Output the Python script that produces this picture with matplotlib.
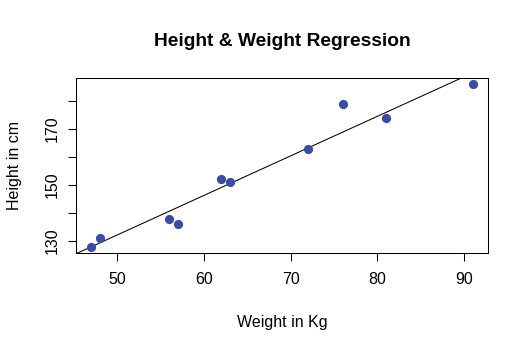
import numpy as np
import matplotlib
matplotlib.use("Agg")
import matplotlib.pyplot as plt

weight = [63, 81, 56, 91, 47, 57, 76, 72, 62, 48]
height = [151, 174, 138, 186, 128, 136, 179, 163, 152, 131]
xticks = [50, 60, 70, 80, 90]
yticks = [130, 140, 150, 160, 170, 180]
ylabels = ["130", "", "150", "", "170", ""]

plt.rcParams['font.family'] = ['Liberation Sans', 'DejaVu Sans']

fig = plt.figure(figsize=(5.2, 3.4), dpi=100)
ax = fig.add_axes([76/520, 1-253/340, (488-76)/520, (253-78)/340])

w = np.array(weight, float)
h = np.array(height, float)
ax.scatter(w, h, s=44, color='#3a4ca6', zorder=3, linewidths=0)

slope, intercept = np.polyfit(w, h, 1)
xr = (w.min() - 0.04*(w.max()-w.min()), w.max() + 0.04*(w.max()-w.min()))
yr = (h.min() - 0.04*(h.max()-h.min()), h.max() + 0.04*(h.max()-h.min()))
xx = np.array([xr[0] - 10, xr[1] + 10])
ax.plot(xx, intercept + slope*xx, color='black', lw=0.75, zorder=2)
ax.set_xlim(*xr)
ax.set_ylim(*yr)

ax.set_xticks(xticks)
ax.set_xticklabels([str(t) for t in xticks])
ax.set_yticks(yticks)
ax.set_yticklabels(ylabels, rotation=90, va='center')
ax.tick_params(direction='out', length=6, width=0.75, labelsize=11.5, pad=6, colors='black')
ax.tick_params(axis='x', pad=8)
for s in ax.spines.values():
    s.set_linewidth(0.75)

ax.set_xlabel("Weight in Kg", fontsize=11.5)
ax.set_ylabel("Height in cm", fontsize=11.5)
ax.xaxis.set_label_coords((282-76)/412, -(323-253)/175)
ax.yaxis.set_label_coords(-(76-14)/412, 0.5)
ax.xaxis.label.set_va('center')
ax.yaxis.label.set_va('center')
fig.text(282/520, 1-42/340, "Height & Weight Regression", ha='center', va='center',
         fontsize=13.8, fontweight='bold')

fig.savefig("out.png", dpi=100)
